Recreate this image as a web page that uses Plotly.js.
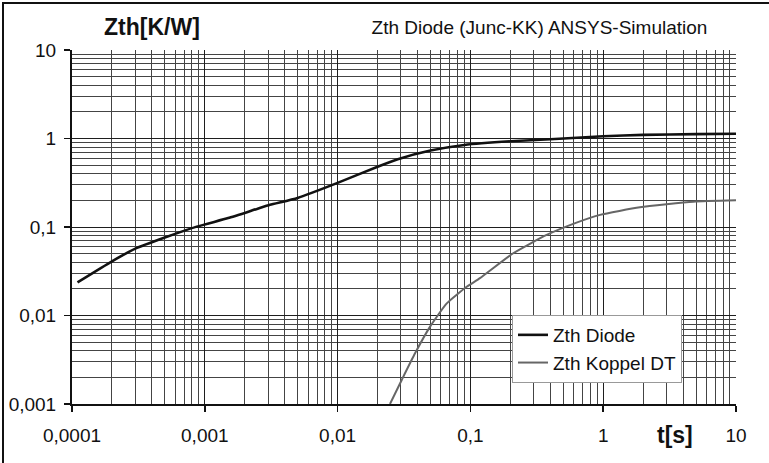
<!DOCTYPE html>
<html>
<head>
<meta charset="utf-8">
<script src="https://cdn.plot.ly/plotly-3.0.1.min.js"></script>
<style>
  html, body { margin: 0; padding: 0; background: #fff; }
  #wrap { position: relative; width: 769px; height: 463px; overflow: hidden; }
  #chart { width: 769px; height: 463px; }
  #frame { position: absolute; left: 2px; top: 2px; width: 800px; height: 500px;
           border-left: 2px solid #111; border-top: 2px solid #111; pointer-events: none; }
</style>
</head>
<body>
<div id="wrap">
  <div id="chart"></div>
  <div id="frame"></div>
</div>
<script>
// Thermal impedance of the diode (junction to heat sink), time in seconds
const diodeT = [1.1e-4, 2e-4, 3e-4, 5e-4, 8.7e-4, 1.5e-3, 2.5e-3, 3.1e-3, 5e-3, 0.01,
                0.02, 0.028, 0.05, 0.09, 0.2, 0.4, 1, 2, 5, 10];
const diodeZ = [0.0237, 0.041, 0.057, 0.076, 0.101, 0.126, 0.161, 0.178, 0.213, 0.315,
                0.48, 0.58, 0.73, 0.845, 0.93, 0.98, 1.06, 1.10, 1.12, 1.13];

// Coupling impedance diode -> transistor
const koppelT = [0.0248, 0.0304, 0.0383, 0.0497, 0.0664, 0.0938, 0.118, 0.21, 0.375,
                 0.63, 0.946, 1.89, 4.77, 10];
const koppelZ = [0.001, 0.00187, 0.00374, 0.00748, 0.0137, 0.0211, 0.0264, 0.0505, 0.0813,
                 0.112, 0.137, 0.167, 0.193, 0.200];

// Decade tick labels with decimal comma
const xTickVals = [1e-4, 1e-3, 1e-2, 1e-1, 1, 10];
const xTickText = ['0,0001', '0,001', '0,01', '0,1', '1', '10'];
const yTickVals = [1e-3, 1e-2, 1e-1, 1, 10];
const yTickText = ['0,001', '0,01', '0,1', '1', '10'];

const FONT = 'Liberation Sans, Arial, sans-serif';

const traces = [
  { x: diodeT, y: diodeZ, name: 'Zth Diode', mode: 'lines', type: 'scatter',
    line: { color: '#111', width: 2.6, shape: 'spline', smoothing: 0.5 } },
  { x: koppelT, y: koppelZ, name: 'Zth Koppel DT', mode: 'lines', type: 'scatter',
    line: { color: '#666', width: 2, shape: 'spline', smoothing: 0.5 } }
];

const axisCommon = {
  type: 'log',
  showline: true, linecolor: '#111', linewidth: 2,
  ticks: 'outside', ticklen: 6, tickwidth: 1.5, tickcolor: '#111',
  showgrid: true, gridcolor: '#1e1e1e', gridwidth: 1,
  zeroline: false,
  tickmode: 'array',
  tickfont: { family: FONT, size: 19, color: '#111' },
  minor: { dtick: 'D1', showgrid: true, gridcolor: '#444', gridwidth: 1, ticks: '' }
};

const layout = {
  width: 769, height: 463,
  margin: { l: 72, r: 33, t: 50, b: 59 },
  paper_bgcolor: '#fff', plot_bgcolor: '#fff',
  font: { family: FONT, color: '#111' },
  title: { text: 'Zth Diode (Junc-KK) ANSYS-Simulation',
           font: { family: FONT, size: 19, color: '#111' },
           x: 539.5 / 769, xanchor: 'center', xref: 'container',
           y: 1 - 27 / 463, yanchor: 'middle', yref: 'container' },
  xaxis: Object.assign({}, axisCommon, {
    range: [-4, 1], tickvals: xTickVals, ticktext: xTickText, ticklabelstandoff: 7
  }),
  yaxis: Object.assign({}, axisCommon, {
    range: [-3, 1], tickvals: yTickVals, ticktext: yTickText, ticklabelstandoff: 4
  }),
  showlegend: true,
  legend: {
    x: (512 - 72) / 664, xanchor: 'left',
    y: (404 - 315) / 354, yanchor: 'top',
    bgcolor: '#fff', bordercolor: '#999', borderwidth: 1,
    font: { family: FONT, size: 19, color: '#111' },
    itemwidth: 30, tracegroupgap: 0
  },
  annotations: [
    { text: '<b>Zth[K/W]</b>', xref: 'paper', yref: 'paper',
      x: (152 - 72) / 664, y: (404 - 27) / 354, xanchor: 'center', yanchor: 'middle',
      showarrow: false, font: { family: FONT, size: 23, color: '#111' } },
    { text: '<b>t[s]</b>', xref: 'paper', yref: 'paper',
      x: (675 - 72) / 664, y: (404 - 435) / 354, xanchor: 'center', yanchor: 'middle',
      showarrow: false, font: { family: FONT, size: 23, color: '#111' } }
  ]
};

Plotly.newPlot('chart', traces, layout, { staticPlot: true, displayModeBar: false });
</script>
</body>
</html>
